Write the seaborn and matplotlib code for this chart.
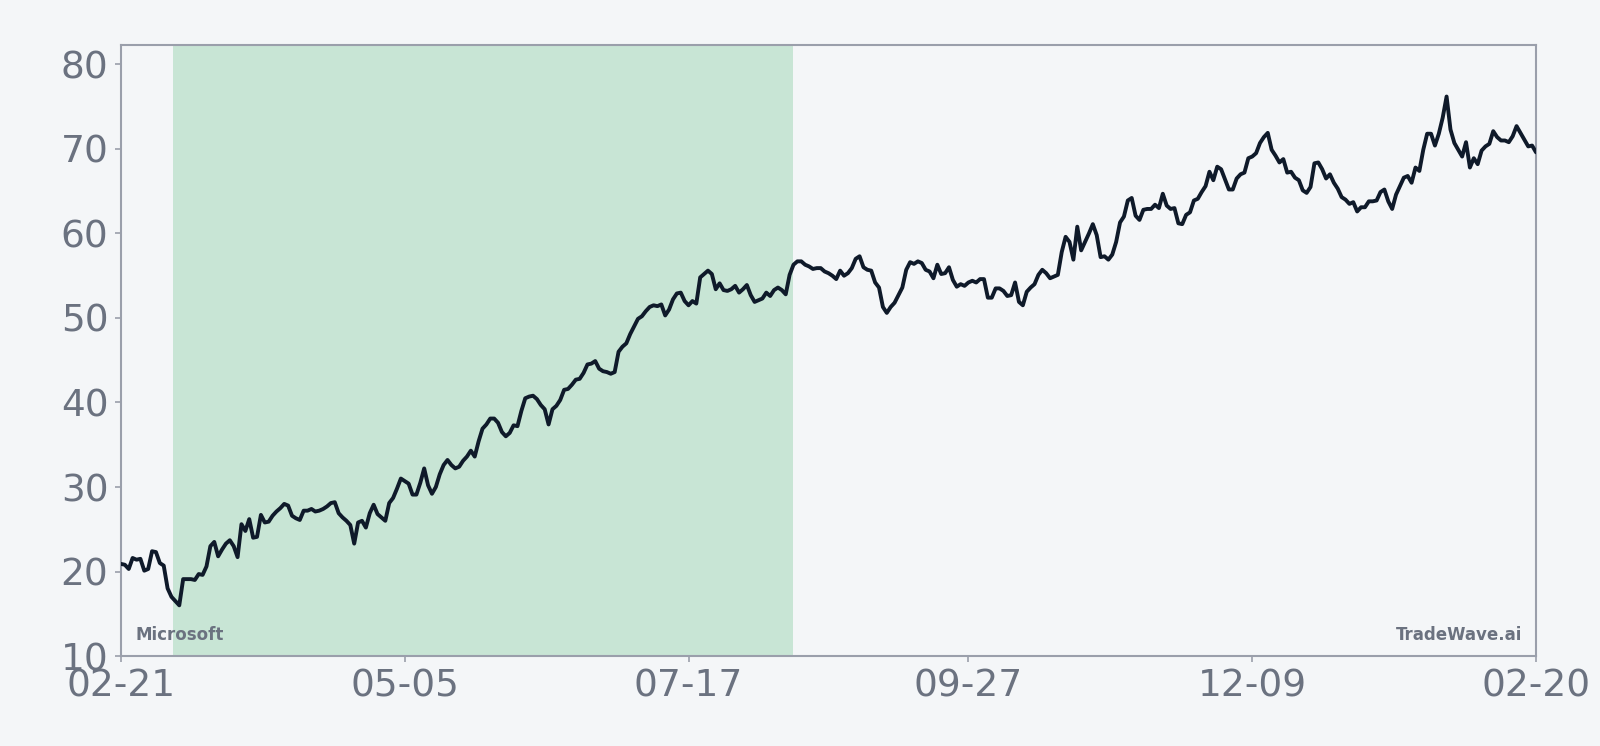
import pandas as pd
import matplotlib.pyplot as plt
import matplotlib.dates as mdates
import seaborn as sns

# daily close, 2023-02-21 .. 2024-02-20
start_date = '2023-02-21'
close_prices = [
    20.9, 20.8, 20.3, 21.6, 21.4, 21.5, 20.1, 20.3, 22.4, 22.3,
    21.0, 20.7, 18.0, 17.0, 16.5, 16.0, 19.1, 19.1, 19.1, 19.0,
    19.7, 19.6, 20.6, 23.0, 23.5, 21.8, 22.6, 23.3, 23.7, 23.0,
    21.7, 25.6, 24.8, 26.2, 24.0, 24.1, 26.7, 25.8, 25.9, 26.6,
    27.1, 27.5, 28.0, 27.8, 26.6, 26.3, 26.1, 27.2, 27.2, 27.4,
    27.1, 27.2, 27.4, 27.7, 28.1, 28.2, 26.9, 26.4, 26.0, 25.5,
    23.3, 25.8,
    26.0, 25.2, 26.9, 27.9, 26.8, 26.4, 26.0, 28.1, 28.7, 29.8,
    31.0, 30.7, 30.4, 29.1, 29.1, 30.5, 32.2, 30.2, 29.2, 30.0,
    31.5, 32.6, 33.2, 32.6, 32.2, 32.4, 33.1, 33.6, 34.3, 33.6,
    35.4, 36.9, 37.4, 38.1, 38.1, 37.6, 36.5, 36.0, 36.4, 37.3,
    37.2, 39.0, 40.5, 40.7, 40.8, 40.4, 39.7, 39.2, 37.4, 39.2,
    39.6, 40.3, 41.5, 41.6, 42.1, 42.7, 42.8, 43.5, 44.5, 44.6,
    44.9, 44.0,
    43.7, 43.6, 43.4, 43.6, 46.0, 46.6, 47.0, 48.1, 49.0, 49.9,
    50.2, 50.8, 51.3, 51.5, 51.4, 51.6, 50.3, 51.0, 52.2, 52.9,
    53.0, 52.0, 51.5, 52.0, 51.7, 54.8, 55.2, 55.6, 55.2, 53.4,
    54.1, 53.3, 53.2, 53.4, 53.8, 53.0, 53.4, 53.9, 52.7, 51.9,
    52.1, 52.3, 53.0, 52.6, 53.3, 53.6, 53.3, 52.8, 55.1, 56.3,
    56.7, 56.7, 56.3, 56.1, 55.8, 55.9, 55.9, 55.5, 55.3, 55.0,
    54.6, 55.6,
    55.0, 55.3, 55.9, 57.0, 57.3, 56.0, 55.7, 55.6, 54.2, 53.6,
    51.3, 50.6, 51.3, 51.8, 52.7, 53.6, 55.7, 56.6, 56.4, 56.7,
    56.5, 55.7, 55.5, 54.7, 56.3, 55.2, 55.3, 56.0, 54.5, 53.7,
    54.0, 53.8, 54.2, 54.4, 54.2, 54.6, 54.6, 52.4, 52.4, 53.5,
    53.5, 53.2, 52.6, 52.7, 54.2, 51.9, 51.5, 53.1, 53.6, 54.0,
    55.1, 55.7, 55.3, 54.7, 54.9, 55.1, 57.8, 59.6, 59.0, 56.9,
    60.8,
    58.0, 59.0, 60.0, 61.1, 59.8, 57.2, 57.3, 56.9, 57.5, 59.0,
    61.3, 62.0, 63.9, 64.2, 62.1, 61.6, 62.8, 62.9, 62.9, 63.4,
    63.0, 64.7, 63.3, 62.9, 63.0, 61.2, 61.1, 62.2, 62.5, 63.9,
    64.1, 64.9, 65.6, 67.3, 66.3, 67.9, 67.6, 66.4, 65.2, 65.2,
    66.5, 67.0, 67.2, 68.9, 69.1, 69.5, 70.7, 71.4, 71.9, 69.9,
    69.2, 68.4, 68.8, 67.2, 67.3, 66.6, 66.3, 65.1, 64.8, 65.5,
    68.3, 68.4,
    67.6, 66.5, 67.0, 66.0, 65.3, 64.3, 64.0, 63.5, 63.7, 62.6,
    63.1, 63.1, 63.8, 63.8, 63.9, 64.9, 65.2, 63.8, 62.9, 64.6,
    65.6, 66.6, 66.8, 66.0, 67.8, 67.4, 69.9, 71.8, 71.8, 70.4,
    71.8, 73.7, 76.2, 72.3, 70.7, 69.9, 69.1, 70.8, 67.8, 68.9,
    68.2, 69.8, 70.3, 70.6, 72.1, 71.4, 71.0, 71.0, 70.8, 71.5,
    72.7, 71.9, 71.1, 70.3, 70.4, 69.6,
]
tick_dates = ['2023-02-21', '2023-05-05', '2023-07-17', '2023-09-27', '2023-12-09', '2024-02-20']
y_ticks = [10, 20, 30, 40, 50, 60, 70, 80]
shade_start = '2023-03-06 12:00'
shade_end = '2023-08-13'
ticker_name = 'Microsoft'
brand = 'TradeWave.ai'

df = pd.DataFrame({
    'date': pd.date_range(start_date, periods=len(close_prices), freq='D'),
    'price': close_prices,
})

bg = '#f4f6f8'
grey = '#6b7280'
spine_c = '#9a9fab'

sns.set_theme(style="ticks", rc={"axes.facecolor": bg, "figure.facecolor": bg})
plt.rcParams['font.family'] = ['DejaVu Sans']

fig = plt.figure(figsize=(16, 7.46), dpi=100)
ax = fig.add_axes([0.0756, 0.1206, 0.8844, 0.8191])

ax.axvspan(pd.Timestamp(shade_start), pd.Timestamp(shade_end), color='#c8e5d5', lw=0, zorder=0)
sns.lineplot(data=df, x='date', y='price', ax=ax, color='#0f1a2a', linewidth=2.8, zorder=3)

ax.set_xlim(df['date'].iloc[0], df['date'].iloc[-1])
ax.set_ylim(10, 82.3)
ax.set_yticks(y_ticks)
ax.set_xticks(pd.to_datetime(tick_dates))
ax.xaxis.set_major_formatter(mdates.DateFormatter('%m-%d'))
ax.tick_params(labelsize=27, labelcolor=grey, color=spine_c, length=4, width=1.2, pad=5)
ax.set_xlabel('')
ax.set_ylabel('')
for s in ax.spines.values():
    s.set_color(spine_c)
    s.set_linewidth(1.5)

ax.text(0.01, 0.02, ticker_name, transform=ax.transAxes, fontsize=12, fontweight='bold',
        color=grey, ha='left', va='bottom')
ax.text(0.99, 0.02, brand, transform=ax.transAxes, fontsize=12, fontweight='bold',
        color=grey, ha='right', va='bottom')

fig.savefig('out.png', dpi=100, facecolor=bg)
plt.close()
